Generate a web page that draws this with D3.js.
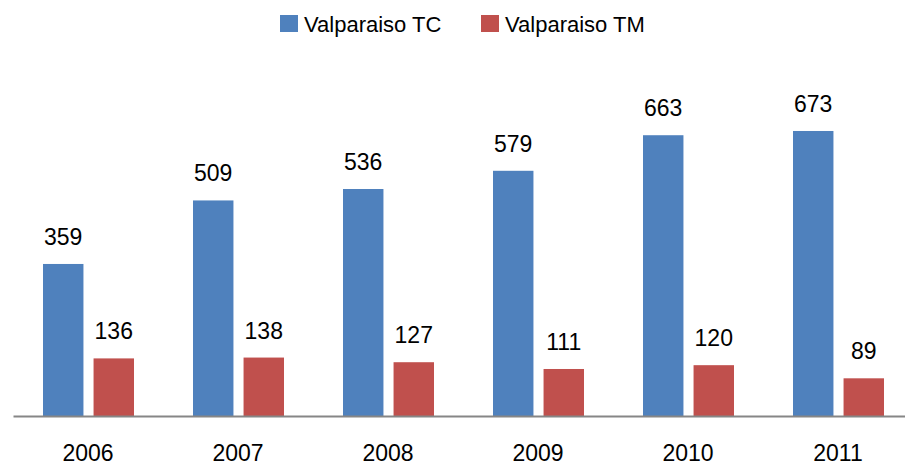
<!DOCTYPE html>
<html>
<head>
<meta charset="utf-8">
<script src="https://cdn.jsdelivr.net/npm/d3@7"></script>
<style>
  body { margin: 0; background: #fff; }
  text { font-family: "Liberation Sans", Arial, sans-serif; fill: #000; }
</style>
</head>
<body>
<svg id="chart"></svg>
<script>
const years = ["2006", "2007", "2008", "2009", "2010", "2011"]
const seriesNames = ["Valparaiso TC", "Valparaiso TM"]
const valuesTC = [359, 509, 536, 579, 663, 673]
const valuesTM = [136, 138, 127, 111, 120, 89]
const colors = ["#4F81BD", "#C0504D"]

let svgWidth = 905
let svgHeight = 465
let baseY = 416

let svg = d3.select("#chart")
  .attr("width", svgWidth)
  .attr("height", svgHeight)

let x = d3.scaleBand()
  .domain(years)
  .range([13, 913])
  .paddingInner(0)
  .paddingOuter(0)

// bars sit inside each 150px band
let inner = d3.scaleBand()
  .domain([0, 1])
  .range([30, 121])
  .paddingInner(0.2)

let y = d3.scaleLinear()
  .domain([0, 700])
  .range([baseY, baseY - 700 * 0.4235])

let rows = years.map((yr, i) => ({ year: yr, vals: [valuesTC[i], valuesTM[i]] }))

let groups = svg.selectAll("g.year")
  .data(rows)
  .enter()
  .append("g")
  .attr("class", "year")
  .attr("transform", d => "translate(" + x(d.year) + ",0)")

groups.selectAll("rect")
  .data(d => d.vals)
  .enter()
  .append("rect")
  .attr("x", (d, i) => inner(i))
  .attr("width", inner.bandwidth())
  .attr("y", d => y(d))
  .attr("height", d => baseY - y(d))
  .attr("fill", (d, i) => colors[i])

groups.selectAll("text.val")
  .data(d => d.vals)
  .enter()
  .append("text")
  .attr("class", "val")
  .attr("x", (d, i) => inner(i) + inner.bandwidth() / 2)
  .attr("y", d => y(d) - 19)
  .attr("text-anchor", "middle")
  .style("font-size", "23px")
  .text(d => d)

// x axis
let axis = svg.append("g")
  .attr("transform", "translate(0," + baseY + ")")
  .call(d3.axisBottom(x).tickSize(0).tickPadding(29))
axis.select(".domain").attr("stroke", "#868686").attr("stroke-width", 2)
axis.selectAll("text")
  .style("font-size", "23px")
  .style("font-family", "'Liberation Sans', Arial, sans-serif")
  .attr("fill", "#000")

// legend
let legendX = [280, 481]
let legend = svg.selectAll("g.legend")
  .data(seriesNames)
  .enter()
  .append("g")
  .attr("class", "legend")
  .attr("transform", (d, i) => "translate(" + legendX[i] + ",15)")

legend.append("rect")
  .attr("width", 18)
  .attr("height", 17)
  .attr("fill", (d, i) => colors[i])

legend.append("text")
  .attr("x", 24)
  .attr("y", 17)
  .style("font-size", "22px")
  .text(d => d)
</script>
</body>
</html>
